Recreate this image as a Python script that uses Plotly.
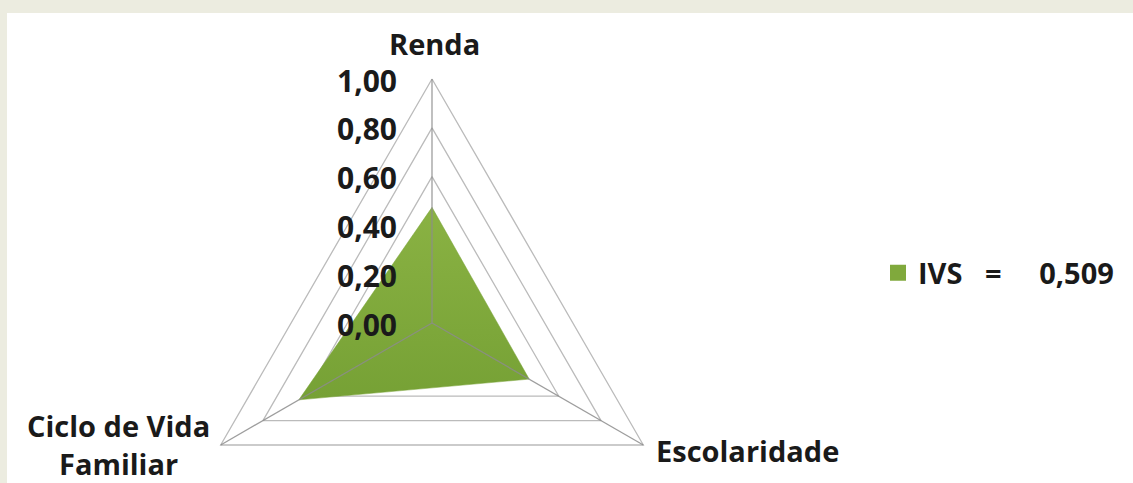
import numpy as np
import plotly.graph_objects as go

# ---------------- data ----------------
categories = ["Renda", "Escolaridade", "Ciclo de Vida<br>Familiar"]
ivs_values = [0.474, 0.46, 0.63]
radial_ticks = [0.0, 0.2, 0.4, 0.6, 0.8, 1.0]
radial_tick_labels = ["0,00", "0,20", "0,40", "0,60", "0,80", "1,00"]
series_name = "IVS"
ivs_index_label = "0,509"

# ---------------- layout constants ----------------
W, H = 1133, 483
ML, MT = 7, 13            # beige frame on left/top
CX, CY = 432, 323         # radar centre (pixels)
SCALE = 244               # pixels per unit of radius
GREEN = "#80A93C"
GRID = "#BBBBBB"
FONT = dict(family="'Open Sans', Lato, sans-serif", size=29, color="#1a1a1a", weight="bold")
TICK_FONT = dict(family="'Open Sans', Lato, sans-serif", size=30, color="#1a1a1a", weight="bold")

n = len(categories)
theta = np.deg2rad(90 - 360 * np.arange(n) / n)   # clockwise from the top


def polygon(radii):
    r = np.asarray(radii, dtype=float)
    x = r * np.cos(theta)
    y = r * np.sin(theta)
    return list(x) + [x[0]], list(y) + [y[0]]


fig = go.Figure()

# grid triangles
gx, gy = [], []
for t in radial_ticks[1:]:
    x, y = polygon([t] * n)
    gx += x + [None]
    gy += y + [None]
fig.add_trace(go.Scatter(x=gx, y=gy, mode="lines", line=dict(color=GRID, width=1.3),
                         hoverinfo="skip", showlegend=False))

# data polygon
px_, py_ = polygon(ivs_values)
fig.add_trace(go.Scatter(x=px_, y=py_, mode="lines", fill="toself",
                         fillcolor=GREEN,
                         fillgradient=dict(type="vertical",
                                           colorscale=[[0, "#76A135"], [1, "#8AB243"]]),
                         line=dict(color="#78A236", width=0.5),
                         name=series_name, showlegend=False))

# spokes (category axes) drawn over the fill
sx, sy = [], []
r_max = radial_ticks[-1]
for th in theta:
    sx += [0, r_max * np.cos(th), None]
    sy += [0, r_max * np.sin(th), None]
fig.add_trace(go.Scatter(x=sx, y=sy, mode="lines",
                         line=dict(color="rgba(140,140,140,0.85)", width=1.3),
                         hoverinfo="skip", showlegend=False))

# legend entry
NB = "\u00a0"
fig.add_trace(go.Scatter(x=[None], y=[None], mode="markers",
                         marker=dict(symbol="square", size=16, color=GREEN),
                         name=series_name + NB * 3 + "=" + NB * 5 + ivs_index_label))

annotations = []
# radial tick labels (along the top spoke)
for t, lab in zip(radial_ticks, radial_tick_labels):
    annotations.append(dict(x=0, y=t, xref="x", yref="y", text=lab, showarrow=False,
                            xanchor="right", yanchor="middle", xshift=-33, yshift=-1,
                            font=TICK_FONT))

# category labels at the outer vertices
cat_style = [
    dict(xanchor="center", yanchor="bottom", xshift=2, yshift=14),
    dict(xanchor="left", yanchor="middle", xshift=11, yshift=-5),
    dict(xanchor="right", yanchor="middle", xshift=-9, yshift=1),
]
for c, th, st in zip(categories, theta, cat_style):
    annotations.append(dict(x=r_max * np.cos(th), y=r_max * np.sin(th), xref="x", yref="y",
                            text=c, showarrow=False, align="center", font=FONT, **st))

pw, ph = W - ML, H - MT
fig.update_layout(
    width=W, height=H,
    margin=dict(l=ML, t=MT, r=0, b=0, pad=0),
    paper_bgcolor="#ECECE0",
    plot_bgcolor="white",
    xaxis=dict(range=[-(CX - ML) / SCALE, (W - CX) / SCALE], visible=False, fixedrange=True),
    yaxis=dict(range=[-(H - CY) / SCALE, (CY - MT) / SCALE], visible=False, fixedrange=True),
    showlegend=True,
    legend=dict(x=(878 - ML) / pw, xanchor="left", y=(H - 273) / ph, yanchor="middle",
                font=FONT, bgcolor="rgba(0,0,0,0)", itemsizing="trace"),
    annotations=annotations,
)

fig.write_html("out.html", config={"displayModeBar": False},
               post_script="document.body.style.margin='0';")
